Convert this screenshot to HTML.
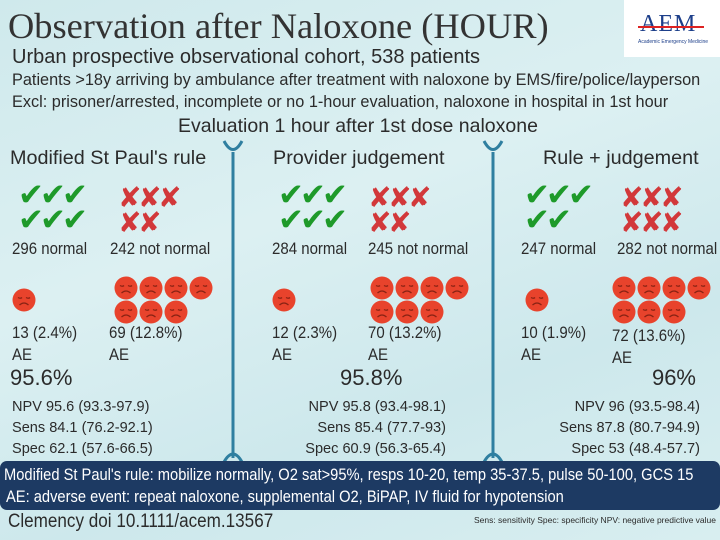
<!DOCTYPE html>
<html><head><meta charset="utf-8">
<style>
*{margin:0;padding:0;box-sizing:border-box}
body{width:720px;height:540px;overflow:hidden;position:relative;font-family:"Liberation Sans",sans-serif;color:#2b2b2b;
background:linear-gradient(160deg,#cfe9ec 0%,#dcf0f2 40%,#cde8ec 70%,#d8eef0 100%)}
.t{position:absolute;white-space:nowrap;line-height:1}
.n{transform-origin:0 0;transform:scaleX(0.91)}
.ic{position:absolute;line-height:1}
.chk{color:#1e9a2a;font-size:31px;font-family:"DejaVu Sans",sans-serif}
.x{color:#d2383a;font-size:28px;font-family:"DejaVu Sans",sans-serif}
</style></head><body>
<div class="t" style="left:8px;top:8px;font-family:'Liberation Serif',serif;font-size:36.4px;color:#333">Observation after Naloxone (HOUR)</div>
<div style="position:absolute;left:624px;top:0;width:96px;height:57px;background:#fff">
 <div class="t" style="left:16px;top:12px;font-family:'Liberation Serif',serif;font-size:24px;color:#1d3f8a;letter-spacing:1px">AEM</div>
 <div style="position:absolute;left:14px;top:26px;width:66px;height:2px;background:#d22"></div>
 <div class="t" style="left:14px;top:40px;font-size:5px;color:#1d3f8a">Academic Emergency Medicine</div>
</div>
<div class="t" style="left:12px;top:47px;font-size:20px">Urban prospective observational cohort, 538 patients</div>
<div class="t" style="left:12px;top:72px;font-size:16.3px">Patients &gt;18y arriving by ambulance after treatment with naloxone by EMS/fire/police/layperson</div>
<div class="t" style="left:12px;top:94px;font-size:16.3px">Excl: prisoner/arrested, incomplete or no 1-hour evaluation, naloxone in hospital in 1st hour</div>
<div class="t" style="left:178px;top:117px;font-size:19.5px">Evaluation 1 hour after 1st dose naloxone</div>

<svg style="position:absolute;left:0;top:0" width="720" height="540">
 <g stroke="#2f7fa0" stroke-width="3" fill="none">
  <path d="M224 141 Q233 158 242 141"/><line x1="233" y1="152" x2="233" y2="458"/><path d="M224 462 Q233 446 242 462"/>
  <path d="M484 141 Q493 158 502 141"/><line x1="493" y1="152" x2="493" y2="458"/><path d="M484 462 Q493 446 502 462"/>
 </g>
</svg>

<div class="t" style="left:10px;top:149px;font-size:19.8px">Modified St Paul's rule</div>
<div class="t" style="left:273px;top:149px;font-size:19.8px">Provider judgement</div>
<div class="t" style="left:543px;top:149px;font-size:19.8px">Rule + judgement</div>

<div id="icons"></div>

<div class="t n" style="left:12px;top:241px;font-size:16.5px">296 normal</div>
<div class="t n" style="left:110px;top:241px;font-size:16.5px">242 not normal</div>
<div class="t n" style="left:272px;top:241px;font-size:16.5px">284 normal</div>
<div class="t n" style="left:368px;top:241px;font-size:16.5px">245 not normal</div>
<div class="t n" style="left:521px;top:241px;font-size:16.5px">247 normal</div>
<div class="t n" style="left:617px;top:241px;font-size:16.5px">282 not normal</div>

<div class="t n" style="left:12px;top:322px;font-size:16.5px;line-height:22px">13 (2.4%)<br>AE</div>
<div class="t n" style="left:109px;top:322px;font-size:16.5px;line-height:22px">69 (12.8%)<br>AE</div>
<div class="t n" style="left:272px;top:322px;font-size:16.5px;line-height:22px">12 (2.3%)<br>AE</div>
<div class="t n" style="left:368px;top:322px;font-size:16.5px;line-height:22px">70 (13.2%)<br>AE</div>
<div class="t n" style="left:521px;top:322px;font-size:16.5px;line-height:22px">10 (1.9%)<br>AE</div>
<div class="t n" style="left:612px;top:325px;font-size:16.5px;line-height:22px">72 (13.6%)<br>AE</div>

<div class="t" style="left:10px;top:367px;font-size:22px">95.6%</div>
<div class="t" style="left:12px;top:396px;font-size:15px;line-height:21px;transform-origin:0 0;transform:scaleX(0.97)">NPV 95.6 (93.3-97.9)<br>Sens 84.1 (76.2-92.1)<br>Spec 62.1 (57.6-66.5)</div>
<div class="t" style="left:340px;top:367px;font-size:22px">95.8%</div>
<div class="t" style="left:290px;top:396px;width:156px;font-size:15px;line-height:21px;text-align:right;transform-origin:100% 0;transform:scaleX(0.97)">NPV 95.8 (93.4-98.1)<br>Sens 85.4 (77.7-93)<br>Spec 60.9 (56.3-65.4)</div>
<div class="t" style="left:600px;top:367px;width:96px;text-align:right;font-size:22px">96%</div>
<div class="t" style="left:530px;top:396px;width:170px;font-size:15px;line-height:21px;text-align:right;transform-origin:100% 0;transform:scaleX(0.97)">NPV 96 (93.5-98.4)<br>Sens 87.8 (80.7-94.9)<br>Spec 53 (48.4-57.7)</div>

<div style="position:absolute;left:0;top:461px;width:720px;height:49px;background:#1d3a63;border-radius:7px"></div>
<div class="t" style="left:4px;top:467px;font-size:16.5px;color:#fff;transform-origin:0 0;transform:scaleX(0.89)">Modified St Paul's rule: mobilize normally, O2 sat&gt;95%, resps 10-20, temp 35-37.5, pulse 50-100, GCS 15</div>
<div class="t" style="left:6px;top:489px;font-size:16.5px;color:#fff;transform-origin:0 0;transform:scaleX(0.89)">AE: adverse event: repeat naloxone, supplemental O2, BiPAP, IV fluid for hypotension</div>
<div class="t" style="left:8px;top:512px;font-size:19px;transform-origin:0 0;transform:scaleX(0.9)">Clemency doi 10.1111/acem.13567</div>
<div class="t" style="left:430px;top:516px;width:286px;text-align:right;font-size:8.5px">Sens: sensitivity Spec: specificity NPV: negative predictive value</div>

<script>
const cols=[
 {checks:[3,3],crosses:[3,2],cx:18,xx:118,fx:12,gx:114},
 {checks:[3,3],crosses:[3,2],cx:278,xx:368,fx:272,gx:370},
 {checks:[3,2],crosses:[3,3],cx:524,xx:620,fx:525,gx:612}
];
const faceRows=[[4,3],[4,3],[4,3]];
const host=document.getElementById('icons');
function face(x,y){
 const s=document.createElementNS('http://www.w3.org/2000/svg','svg');
 s.setAttribute('width','24');s.setAttribute('height','24');
 s.setAttribute('style','position:absolute;left:'+x+'px;top:'+y+'px');
 
 
 s.innerHTML='<circle cx="12" cy="12" r="11.5" fill="#e8432c"/><path d="M6 9.5q2.5 1.5 4 0M14 9.5q2.5 1.5 4 0M7.5 17q4.5-4 9 0" stroke="#8a2314" stroke-width="1.3" fill="none"/>';
 host.appendChild(s);
}
cols.forEach((c,i)=>{
 c.checks.forEach((n,r)=>{for(let k=0;k<n;k++){const d=document.createElement('div');d.className='ic chk';d.textContent='✔';
  d.style.left=(c.cx+k*22)+'px';d.style.top=(180+r*25)+'px';
  
  
  host.appendChild(d);}});
 c.crosses.forEach((n,r)=>{for(let k=0;k<n;k++){const d=document.createElement('div');d.className='ic x';d.textContent='✘';
  d.style.left=(c.xx+k*20)+'px';d.style.top=(184+r*25)+'px';
  
  
  host.appendChild(d);}});
 face(c.fx,288);
 faceRows[i].forEach((n,r)=>{for(let k=0;k<n;k++)face(c.gx+k*25,276+r*24);});
});
</script>
</body></html>
